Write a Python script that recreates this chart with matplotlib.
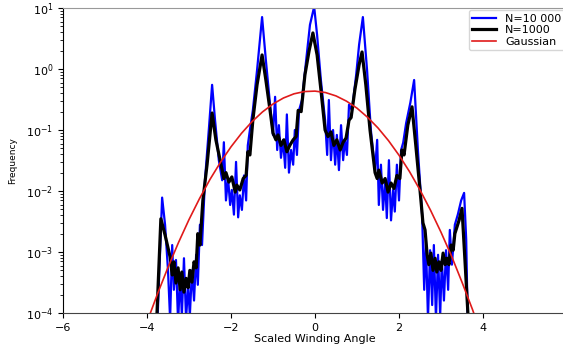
import matplotlib.pyplot as plt

# N=1000 histogram (black)
x_1000 = [-3.78, -3.67, -3.57, -3.45, -3.40, -3.36, -3.31, -3.26, -3.21, -3.17, -3.12, -3.07,
          -3.02, -2.98, -2.93, -2.88, -2.83, -2.79, -2.74, -2.67, -2.57, -2.45, -2.36, -2.21,
          -2.17, -2.12, -2.05, -1.98, -1.90, -1.86, -1.79, -1.71, -1.64, -1.60, -1.55, -1.48,
          -1.38, -1.26, -1.17, -1.07, -1.00, -0.93, -0.88, -0.81, -0.74, -0.67, -0.60, -0.52,
          -0.45, -0.40, -0.33, -0.24, -0.14, -0.05, 0.05, 0.14, 0.24, 0.31, 0.38, 0.45,
          0.52, 0.60, 0.67, 0.74, 0.81, 0.86, 0.95, 1.05, 1.12, 1.21, 1.31, 1.43,
          1.48, 1.52, 1.60, 1.67, 1.74, 1.81, 1.88, 1.95, 2.02, 2.07, 2.12, 2.21,
          2.31, 2.40, 2.50, 2.57, 2.62, 2.67, 2.71, 2.76, 2.81, 2.86, 2.90, 2.95,
          3.00, 3.05, 3.10, 3.14, 3.19, 3.24, 3.29, 3.33, 3.43, 3.50, 3.57, 3.64, 3.67]
f_1000 = [5e-5, 3.5e-3, 1.9e-3, 8.3e-4, 4.2e-4, 6.9e-4, 3.1e-4, 5.5e-4, 2.4e-4, 4.7e-4, 2.2e-4, 3.7e-4,
          2.6e-4, 5e-4, 3.2e-4, 6.9e-4, 5.5e-4, 2.0e-3, 1.3e-3, 7e-3, 0.027, 0.19, 0.069, 0.022,
          0.016, 0.020, 0.014, 0.017, 9.6e-3, 0.0125, 0.0104, 0.016, 0.018, 0.044, 0.039, 0.145,
          0.55, 1.7, 0.66, 0.21, 0.089, 0.069, 0.083, 0.056, 0.069, 0.044, 0.056, 0.069,
          0.078, 0.21, 0.20, 0.8, 2.0, 3.9, 1.7, 0.46, 0.10, 0.078, 0.093, 0.056,
          0.069, 0.047, 0.063, 0.074, 0.145, 0.16, 0.46, 1.17, 1.9, 0.55, 0.10, 0.020,
          0.016, 0.022, 0.0135, 0.016, 9.6e-3, 0.0135, 0.011, 0.018, 0.016, 0.047, 0.039, 0.12,
          0.24, 0.056, 0.0104, 3.0e-3, 2.3e-3, 9e-4, 6.2e-4, 9.6e-4, 5e-4, 7.9e-4, 4.7e-4, 6.9e-4,
          5e-4, 9.6e-4, 6.2e-4, 7.9e-4, 6.2e-4, 1.3e-3, 1.07e-3, 2.0e-3, 3.3e-3, 5.2e-3, 7.4e-4, 1e-4, 5e-5]

# N=10 000 histogram (blue)
x_10000 = [-3.76, -3.64, -3.57, -3.50, -3.45, -3.40, -3.36, -3.31, -3.26, -3.21, -3.17, -3.12,
           -3.07, -3.02, -2.98, -2.93, -2.88, -2.83, -2.79, -2.74, -2.69, -2.62, -2.52, -2.45,
           -2.38, -2.29, -2.21, -2.17, -2.12, -2.07, -2.02, -1.98, -1.93, -1.88, -1.83, -1.79,
           -1.74, -1.69, -1.64, -1.60, -1.55, -1.48, -1.38, -1.26, -1.17, -1.07, -1.00, -0.95,
           -0.90, -0.86, -0.81, -0.76, -0.71, -0.67, -0.62, -0.57, -0.52, -0.48, -0.43, -0.38,
           -0.31, -0.21, -0.12, -0.02, 0.05, 0.14, 0.24, 0.29, 0.33, 0.38, 0.43, 0.48,
           0.52, 0.57, 0.62, 0.67, 0.71, 0.76, 0.81, 0.88, 0.98, 1.05, 1.14, 1.24,
           1.33, 1.43, 1.48, 1.52, 1.57, 1.62, 1.67, 1.71, 1.76, 1.81, 1.86, 1.90,
           1.95, 2.00, 2.05, 2.10, 2.17, 2.27, 2.36, 2.45, 2.55, 2.60, 2.64, 2.69,
           2.74, 2.79, 2.83, 2.88, 2.93, 2.98, 3.02, 3.07, 3.12, 3.17, 3.21, 3.26,
           3.33, 3.40, 3.48, 3.55, 3.60, 3.64]
f_10000 = [5e-5, 7.8e-3, 2.8e-3, 5e-4, 8e-5, 1.3e-3, 2.4e-4, 7.4e-4, 7e-5, 4.2e-4, 9e-5, 7.9e-4,
           8e-5, 2.9e-4, 9e-5, 5e-4, 1.6e-4, 9e-4, 2.9e-4, 2.8e-3, 1.3e-3, 0.015, 0.12, 0.55,
           0.145, 0.032, 0.015, 0.063, 7e-3, 0.016, 5.9e-3, 0.0104, 4.1e-3, 0.030, 3.7e-3, 8.5e-3,
           4.9e-3, 0.018, 7e-3, 0.056, 0.10, 0.21, 0.95, 7.1, 1.4, 0.26, 0.083, 0.35,
           0.047, 0.12, 0.035, 0.069, 0.024, 0.18, 0.020, 0.047, 0.027, 0.10, 0.039, 0.21,
           0.31, 1.4, 5.3, 10.5, 3.6, 0.66, 0.145, 0.039, 0.31, 0.032, 0.10, 0.027,
           0.083, 0.022, 0.12, 0.032, 0.069, 0.039, 0.26, 0.21, 0.8, 2.5, 7.1, 0.95,
           0.10, 0.022, 0.069, 5.9e-3, 0.027, 4.9e-3, 0.015, 3.6e-3, 0.032, 3.3e-3, 0.0104, 4.6e-3,
           0.027, 7e-3, 0.047, 0.062, 0.13, 0.28, 0.66, 0.047, 4.1e-3, 2.4e-4, 1.6e-3, 8e-5,
           1.07e-3, 1.35e-4, 1.3e-3, 8e-5, 9e-4, 9e-5, 7.4e-4, 1.6e-4, 1.07e-3, 2.4e-4, 2.3e-3, 6.2e-4,
           2.8e-3, 4.1e-3, 7e-3, 9.3e-3, 1.6e-3, 5e-5]

# Gaussian curve
x_gauss = [-4.0, -3.75, -3.5, -3.25, -3.0, -2.75, -2.5, -2.25, -2.0, -1.75, -1.5, -1.25, -1.0,
           -0.75, -0.5, -0.25, 0.0, 0.25, 0.5, 0.75, 1.0, 1.25, 1.5, 1.75, 2.0, 2.25, 2.5,
           2.75, 3.0, 3.25, 3.5, 3.75, 4.0]
f_gauss = [7.1e-5, 2.06e-4, 5.6e-4, 1.43e-3, 3.4e-3, 7.5e-3, 0.0155, 0.0296, 0.053, 0.0883, 0.137,
           0.198, 0.267, 0.335, 0.392, 0.427, 0.434, 0.411, 0.362, 0.297, 0.228, 0.162, 0.108,
           0.0669, 0.0386, 0.0208, 0.0104, 4.85e-3, 2.11e-3, 8.6e-4, 3.2e-4, 1.14e-4, 3.7e-5]

fig = plt.figure(figsize=(5.63, 3.45), dpi=100)
ax = fig.add_axes([63 / 563, 32 / 345, 504 / 563, 305 / 345])

ax.plot(x_10000, f_10000, color='blue', lw=1.6, label='N=10 000')
ax.plot(x_1000, f_1000, color='black', lw=2.3, label='N=1000')
ax.plot(x_gauss, f_gauss, color='#e01a1a', lw=1.2, label='Gaussian')

ax.set_yscale('log')
ax.set_ylim(1e-4, 10)
ax.set_xlim(-6, 6)
ax.set_xticks([-6, -4, -2, 0, 2, 4])
ax.tick_params(labelsize=8)
ax.set_xlabel('Scaled Winding Angle', fontsize=8, labelpad=1)
ax.set_ylabel('Frequency', fontsize=6.5, labelpad=6)
ax.spines['top'].set_color('#999999')
ax.spines['bottom'].set_color('#444444')

ax.legend(loc='upper right', fontsize=8, borderaxespad=0.2, handlelength=2.2,
          labelspacing=0.15, borderpad=0.3)

plt.savefig('out.png', dpi=100)
